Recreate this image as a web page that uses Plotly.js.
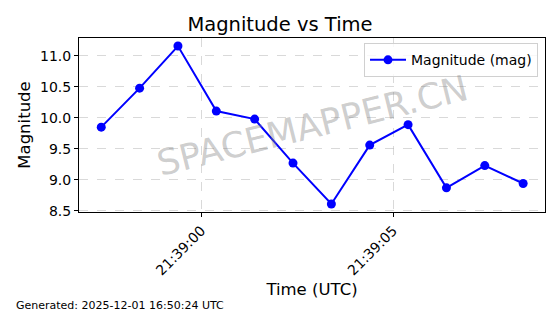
<!DOCTYPE html>
<html>
<head>
<meta charset="utf-8">
<script src="https://cdn.plot.ly/plotly-3.0.1.min.js"></script>
<style>html,body{margin:0;padding:0;background:#fff;}#chart{width:560px;height:314px;}</style>
</head>
<body>
<div id="chart"></div>
<script>
const times = [
  '2025-12-01 21:38:57.39', '2025-12-01 21:38:58.39', '2025-12-01 21:38:59.39',
  '2025-12-01 21:39:00.39', '2025-12-01 21:39:01.39', '2025-12-01 21:39:02.39',
  '2025-12-01 21:39:03.39', '2025-12-01 21:39:04.39', '2025-12-01 21:39:05.39',
  '2025-12-01 21:39:06.39', '2025-12-01 21:39:07.39', '2025-12-01 21:39:08.39'
];
const magnitudes = [9.85, 10.48, 11.16, 10.11, 9.98, 9.27, 8.61, 9.56, 9.89, 8.87, 9.23, 8.94];
const xTickVals = ['2025-12-01 21:39:00', '2025-12-01 21:39:05'];
const xTickText = ['21:39:00', '21:39:05'];
const yTickVals = [8.5, 9.0, 9.5, 10.0, 10.5, 11.0];
const yTickText = ['8.5', '9.0', '9.5', '10.0', '10.5', '11.0'];
const xRange = ['2025-12-01 21:38:56.81', '2025-12-01 21:39:08.96'];
const yRange = [8.48, 11.29];

const font = 'DejaVu Sans, sans-serif';
const trace = {
  x: times, y: magnitudes, type: 'scatter', mode: 'lines+markers',
  name: 'Magnitude (mag)',
  line: {color: '#0000ff', width: 2},
  marker: {color: '#0000ff', size: 9}
};
const axisCommon = {
  showline: true, mirror: true, linecolor: '#000', linewidth: 1,
  ticks: 'outside', ticklen: 4, tickcolor: '#000', tickwidth: 1,
  showgrid: true, gridcolor: 'rgba(176,176,176,0.6)', griddash: 'dash', gridwidth: 0.8,
  zeroline: false, tickfont: {family: font, size: 14, color: '#000'}
};
const layout = {
  width: 560, height: 314,
  margin: {l: 79, r: 15, t: 38, b: 102},
  paper_bgcolor: '#fff', plot_bgcolor: '#fff',
  font: {family: font, color: '#000'},
  title: {text: 'Magnitude vs Time', font: {family: font, size: 19.5, color: '#000'}, x: 0.5, xanchor: 'center', y: 0.922, yanchor: 'middle'},
  xaxis: Object.assign({}, axisCommon, {
    type: 'date', range: xRange, tickmode: 'array', tickvals: xTickVals, ticktext: xTickText,
    tickangle: -45,
    title: {text: 'Time (UTC)', font: {family: font, size: 16.5, color: '#000'}, standoff: 6}
  }),
  yaxis: Object.assign({}, axisCommon, {
    range: yRange, tickmode: 'array', tickvals: yTickVals, ticktext: yTickText,
    title: {text: 'Magnitude', font: {family: font, size: 16.5, color: '#000'}, standoff: 5}
  }),
  showlegend: true,
  legend: {
    x: 0.985, y: 0.97, xanchor: 'right', yanchor: 'top',
    bgcolor: 'rgba(255,255,255,0.8)', bordercolor: '#d0d0d0', borderwidth: 1,
    itemwidth: 36,
    font: {family: font, size: 14, color: '#000'}
  },
  annotations: [
    {text: 'SPACEMAPPER.CN', xref: 'paper', yref: 'paper', x: 0.5, y: 0.5,
     xanchor: 'center', yanchor: 'middle', showarrow: false, textangle: -14,
     font: {family: font, size: 35.5, color: 'rgba(128,128,128,0.4)'}},
    {text: 'Generated: 2025-12-01 16:50:24 UTC', xref: 'paper', yref: 'paper',
     x: (14 - 79) / 466, y: -(305 - 212) / 174, xanchor: 'left', yanchor: 'middle',
     showarrow: false, font: {family: font, size: 11, color: '#000'}}
  ]
};
Plotly.newPlot('chart', [trace], layout, {displayModeBar: false, staticPlot: true});
</script>
</body>
</html>
